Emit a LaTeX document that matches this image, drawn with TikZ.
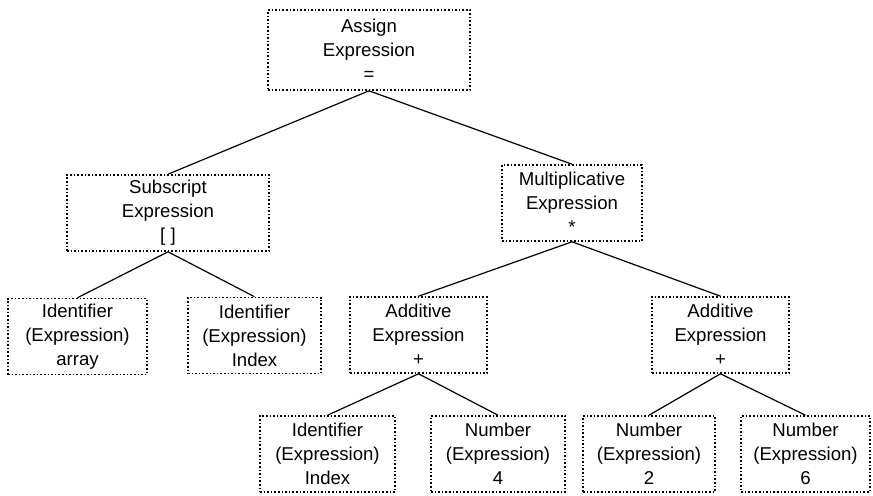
\documentclass[tikz,border=0pt]{standalone}
\usepackage{fontspec}
\setmainfont{Liberation Sans}

\begin{document}
\begin{tikzpicture}[x=0.5pt,y=-0.5pt,
    box/.style={draw,densely dotted,line width=0.8pt,align=center,
                minimum height=38pt,inner sep=0pt,
                font=\fontsize{9.3}{12}\selectfont},
    link/.style={line width=0.6pt}]
        \useasboundingbox (0,0) rectangle (873,495);
        \draw (369,50)    node[box,minimum width=101pt,minimum height=40pt] (assign) {Assign\\Expression\\=};
        \draw (168,213)   node[box,minimum width=101pt] (subscr) {Subscript\\Expression\\{[ ]}};
        \draw (572,203)   node[box,minimum width=70pt]  (mult) {Multiplicative\\Expression\\*};
        \draw (77.5,336.5) node[box,minimum width=69.5pt] (idarr) {Identifier\\(Expression)\\array};
        \draw (254.5,335.5) node[box,minimum width=66.5pt] (idind) {Identifier\\(Expression)\\Index};
        \draw (418.5,335) node[box,minimum width=68.5pt] (addl) {Additive\\Expression\\+};
        \draw (720.5,335) node[box,minimum width=68.5pt] (addr) {Additive\\Expression\\+};
        \draw (327.5,454) node[box,minimum width=67.5pt] (idindb) {Identifier\\(Expression)\\Index};
        \draw (498,454)   node[box,minimum width=67pt]   (numf) {Number\\(Expression)\\4};
        \draw (649,454)   node[box,minimum width=66pt]   (numt) {Number\\(Expression)\\2};
        \draw (805.5,454) node[box,minimum width=64.5pt] (nums) {Number\\(Expression)\\6};
        \draw[link] (assign.south) -- (subscr.north)
              (assign.south) -- (mult.north)
              (subscr.south) -- (idarr.north)
              (subscr.south) -- (idind.north)
              (mult.south) -- (addl.north)
              (mult.south) -- (addr.north)
              (addl.south) -- (idindb.north)
              (addl.south) -- (numf.north)
              (addr.south) -- (numt.north)
              (addr.south) -- (nums.north);
    \end{tikzpicture}
\end{document}
